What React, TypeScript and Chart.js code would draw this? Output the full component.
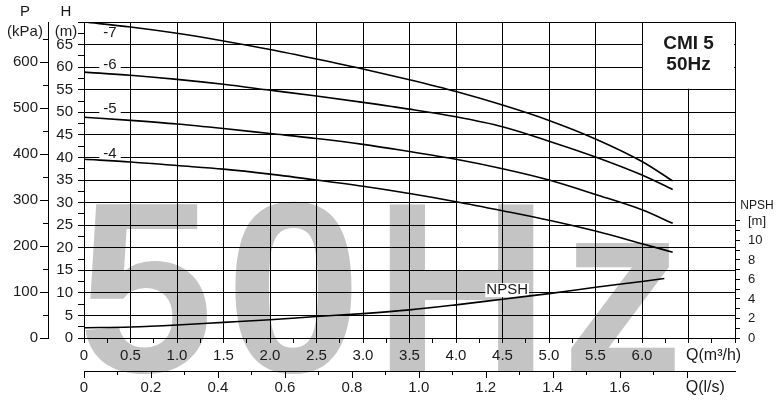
import React, { useEffect, useRef } from 'react';
import { Chart, registerables } from 'chart.js';

Chart.register(...registerables);

// ---- data ----
const Q_HEAD = [0, 0.5, 1.0, 1.5, 2.0, 2.5, 3.0, 3.5, 4.0, 4.5, 5.0, 5.5, 6.0, 6.33];
const H_STAGE_7 = [70.0, 68.9, 67.5, 65.8, 63.9, 61.8, 59.6, 57.2, 54.6, 51.6, 48.2, 44.1, 39.1, 34.8];
const H_STAGE_6 = [58.9, 58.2, 57.3, 56.2, 54.9, 53.6, 52.2, 50.7, 49.0, 46.8, 43.6, 40.1, 36.1, 32.9];
const H_STAGE_5 = [48.9, 48.2, 47.4, 46.4, 45.3, 44.2, 42.9, 41.3, 39.6, 37.5, 35.0, 31.8, 28.4, 25.4];
const H_STAGE_4 = [39.6, 39.0, 38.2, 37.4, 36.3, 35.0, 33.6, 32.0, 30.2, 28.2, 26.1, 23.7, 20.9, 19.0];
const STAGE_NAMES = ['-7', '-6', '-5', '-4'];

const Q_NPSH = [0, 0.5, 1.0, 1.5, 2.0, 2.5, 3.0, 3.5, 4.0, 4.5, 5.0, 5.5, 6.0, 6.24];
const NPSH_VALUES = [1.05, 1.13, 1.33, 1.6, 1.87, 2.2, 2.5, 2.88, 3.4, 3.98, 4.55, 5.2, 5.8, 6.1];

const Q_M3H_TICK_LABELS = [0, 0.5, 1.0, 1.5, 2.0, 2.5, 3.0, 3.5, 4.0, 4.5, 5.0, 5.5, 6.0];
const Q_LS_TICK_LABELS = [0, 0.2, 0.4, 0.6, 0.8, 1.0, 1.2, 1.4, 1.6];
const H_TICK_LABELS = [0, 5, 10, 15, 20, 25, 30, 35, 40, 45, 50, 55, 60, 65];
const P_TICK_LABELS = [0, 100, 200, 300, 400, 500, 600];
const NPSH_TICK_LABELS = [0, 2, 4, 6, 8, 10];

const TITLE_LINES = ['CMI 5', '50Hz'];

// ---- styling ----
const FONT = '"Liberation Sans", Arial, sans-serif';
const INK = '#000';
const TEXT = '#1a1a1a';
const H_MAX = 70;
const P_MAX = H_MAX * 9.81;
const Q_MAX = 7;
const NPSH_MAX = 32.4;

const near = (v: number, arr: number[]) => arr.some((a) => Math.abs(a - v) < 1e-6);
const stepTicks = (min: number, max: number, step: number) => {
  const out: { value: number }[] = [];
  const n = Math.round((max - min) / step);
  for (let i = 0; i <= n; i++) out.push({ value: +(min + i * step).toFixed(4) });
  return out;
};

const watermarkPlugin = {
  id: 'watermark',
  beforeDraw(chart: any) {
    const { ctx, chartArea } = chart;
    ctx.save();
    ctx.font = `bold 244px ${FONT}`;
    ctx.fillStyle = '#c4c4c4';
    (ctx as any).letterSpacing = '12px';
    ctx.textAlign = 'left';
    ctx.textBaseline = 'alphabetic';
    ctx.fillText('50Hz', chartArea.left - 6, chartArea.bottom + 34);
    ctx.restore();
  },
};

function labelWithBg(ctx: CanvasRenderingContext2D, text: string, cx: number, cy: number, font: string, padX: number, h: number) {
  ctx.font = font;
  const w = ctx.measureText(text).width;
  ctx.fillStyle = '#fff';
  ctx.fillRect(cx - w / 2 - padX, cy - h / 2, w + 2 * padX, h);
  ctx.fillStyle = TEXT;
  ctx.textAlign = 'center';
  ctx.textBaseline = 'middle';
  ctx.fillText(text, cx, cy);
}

const overlayPlugin = {
  id: 'overlay',
  beforeDatasetsDraw(chart: any) {
    const { ctx } = chart;
    const x = chart.scales.x;
    const y = chart.scales.y;
    ctx.save();
    // title box in the top right corner
    const x0 = x.getPixelForValue(6);
    const x1 = x.getPixelForValue(7);
    const y0 = y.getPixelForValue(70);
    const y1 = y.getPixelForValue(55);
    ctx.fillStyle = '#fff';
    ctx.fillRect(x0 + 1, y0 + 1, x1 - x0 - 2, y1 - y0 - 2);
    ctx.fillStyle = TEXT;
    ctx.font = `bold 19px ${FONT}`;
    ctx.textAlign = 'center';
    ctx.textBaseline = 'middle';
    ctx.fillText(TITLE_LINES[0], (x0 + x1) / 2, y0 + 21.5);
    ctx.fillText(TITLE_LINES[1], (x0 + x1) / 2, y0 + 42.5);

    // stage labels
    const stageLabelH = [67.5, 60.6, 50.7, 40.9];
    STAGE_NAMES.forEach((name, i) => {
      labelWithBg(ctx, name, x.getPixelForValue(0.28), y.getPixelForValue(stageLabelH[i]), `15px ${FONT}`, 4, 15);
    });
    // NPSH curve label
    labelWithBg(ctx, 'NPSH', x.getPixelForValue(4.55), y.getPixelForValue(10.6), `15px ${FONT}`, 1, 14);
    ctx.restore();
  },
  afterDraw(chart: any) {
    const { ctx, chartArea } = chart;
    const x = chart.scales.x;
    const x2 = chart.scales.x2;
    const yP = chart.scales.yP;
    const yH = chart.scales.y;
    const npsh = chart.scales.npsh;
    ctx.save();
    ctx.strokeStyle = INK;
    ctx.lineWidth = 1;
    // P axis tick marks
    for (let v = 0; v <= 650; v += 50) {
      const py = Math.round(yP.getPixelForValue(v)) + 0.5;
      const len = v % 100 === 0 ? 8 : 5;
      ctx.beginPath();
      ctx.moveTo(yP.right - len, py);
      ctx.lineTo(yP.right, py);
      ctx.stroke();
    }
    // l/s axis tick marks
    for (let i = 0; i <= 18; i++) {
      const v = i / 10;
      const px = Math.round(x2.getPixelForValue(v)) + 0.5;
      const len = i % 2 === 0 ? 7 : 4;
      ctx.beginPath();
      ctx.moveTo(px, x2.top);
      ctx.lineTo(px, x2.top + len);
      ctx.stroke();
    }
    ctx.fillStyle = TEXT;
    ctx.textAlign = 'center';
    ctx.textBaseline = 'middle';
    ctx.font = `16px ${FONT}`;
    ctx.fillText('Q(m³/h)', x.getPixelForValue(6.77), x.top + 18);
    ctx.fillText('Q(l/s)', x.getPixelForValue(6.68), x2.top + 17);
    ctx.font = `12px ${FONT}`;
    ctx.fillText('NPSH', npsh.left + 22, npsh.getPixelForValue(12) - 15);
    ctx.font = `15px ${FONT}`;
    const pc = (yP.left + yP.right) / 2;
    const hc = (yH.left + yH.right) / 2;
    ctx.fillText('P', pc + 1, chartArea.top - 10);
    ctx.fillText('(kPa)', pc + 1, chartArea.top + 10);
    ctx.fillText('H', hc, chartArea.top - 10);
    ctx.fillText('(m)', hc, chartArea.top + 10);
    ctx.restore();
  },
};

const stages = [H_STAGE_7, H_STAGE_6, H_STAGE_5, H_STAGE_4];

export default function App() {
  const ref = useRef<HTMLCanvasElement>(null);
  useEffect(() => {
    const lineStyle = {
      borderColor: INK,
      borderWidth: 1.6,
      pointRadius: 0,
      fill: false,
      cubicInterpolationMode: 'monotone' as const,
    };
    const tickFont = { family: FONT, size: 15 };
    const chart = new Chart(ref.current!, {
      type: 'line',
      data: {
        datasets: [
          ...stages.map((vals, si) => ({
            label: STAGE_NAMES[si],
            data: Q_HEAD.map((q, i) => ({ x: q, y: vals[i] })),
            xAxisID: 'x',
            yAxisID: 'y',
            ...lineStyle,
          })),
          {
            label: 'NPSH',
            data: Q_NPSH.map((q, i) => ({ x: q, y: NPSH_VALUES[i] })),
            xAxisID: 'x',
            yAxisID: 'npsh',
            ...lineStyle,
          },
        ],
      },
      options: {
        animation: false,
        responsive: true,
        maintainAspectRatio: false,
        events: [],
        layout: { padding: { top: 22, left: 0, right: 0, bottom: 0 } },
        plugins: { legend: { display: false }, tooltip: { enabled: false } },
        scales: {
          x: {
            type: 'linear',
            position: 'bottom',
            weight: 0,
            min: 0,
            max: Q_MAX,
            afterBuildTicks: (s: any) => { s.ticks = stepTicks(0, Q_MAX, 0.25); },
            afterFit: (s: any) => { s.height = 33; },
            grid: {
              color: (c: any) => (c.tick && Math.abs(c.tick.value * 2 - Math.round(c.tick.value * 2)) < 1e-6 ? INK : 'rgba(0,0,0,0)'),
              tickColor: INK,
              tickLength: 5,
              lineWidth: 1,
            },
            border: { display: true, color: INK, width: 1 },
            ticks: {
              autoSkip: false,
              maxRotation: 0,
              minRotation: 0,
              padding: 4,
              color: TEXT,
              font: tickFont,
              callback: (v: any) => (near(+v, Q_M3H_TICK_LABELS) ? (+v === 0 ? '0' : (+v).toFixed(1)) : ''),
            },
          },
          x2: {
            type: 'linear',
            position: 'bottom',
            weight: 1,
            min: 0,
            max: Q_MAX / 3.6,
            afterBuildTicks: (s: any) => { s.ticks = Q_LS_TICK_LABELS.map((v) => ({ value: v })); },
            afterFit: (s: any) => { s.height = 31; },
            grid: { drawOnChartArea: false, drawTicks: false },
            border: { display: true, color: INK, width: 1 },
            ticks: {
              autoSkip: false,
              maxRotation: 0,
              minRotation: 0,
              padding: 8,
              color: TEXT,
              font: tickFont,
              callback: (v: any) => (+v === 0 ? '0' : (+v).toFixed(1)),
            },
          },
          y: {
            type: 'linear',
            position: 'left',
            weight: 0,
            min: 0,
            max: H_MAX,
            afterBuildTicks: (s: any) => { s.ticks = stepTicks(0, H_MAX, 2.5); },
            afterFit: (s: any) => { s.width = 36; },
            grid: {
              color: (c: any) => (c.tick && Math.abs(c.tick.value / 5 - Math.round(c.tick.value / 5)) < 1e-6 ? INK : 'rgba(0,0,0,0)'),
              tickColor: INK,
              tickLength: 6,
              lineWidth: 1,
            },
            border: { display: true, color: INK, width: 1 },
            ticks: {
              autoSkip: false,
              padding: 5,
              color: TEXT,
              font: tickFont,
              callback: (v: any) => (near(+v, H_TICK_LABELS) ? String(v) : ''),
            },
          },
          yP: {
            type: 'linear',
            position: 'left',
            weight: 1,
            min: 0,
            max: P_MAX,
            afterBuildTicks: (s: any) => { s.ticks = P_TICK_LABELS.map((v) => ({ value: v })); },
            afterFit: (s: any) => { s.width = 48; },
            grid: { drawOnChartArea: false, drawTicks: false },
            border: { display: true, color: INK, width: 1 },
            ticks: {
              autoSkip: false,
              padding: 10,
              color: TEXT,
              font: tickFont,
              callback: (v: any) => String(v),
            },
          },
          npsh: {
            type: 'linear',
            position: 'right',
            min: 0,
            max: NPSH_MAX,
            afterBuildTicks: (s: any) => { s.ticks = stepTicks(0, 12, 1); },
            afterFit: (s: any) => { s.width = 47; },
            grid: { drawOnChartArea: false, tickColor: INK, tickLength: 5, color: INK },
            border: { display: true, color: INK, width: 1 },
            ticks: {
              autoSkip: false,
              padding: 8,
              color: TEXT,
              font: { family: FONT, size: 13 },
              callback: (v: any) => (near(+v, NPSH_TICK_LABELS) ? String(v) : +v === 12 ? '[m]' : ''),
            },
          },
        },
      } as any,
      plugins: [watermarkPlugin, overlayPlugin],
    });
    return () => chart.destroy();
  }, []);
  return (
    <div style={{ position: 'fixed', left: 0, top: 0, width: 782, height: 402, background: '#fff' }}>
      <canvas ref={ref} />
    </div>
  );
}
